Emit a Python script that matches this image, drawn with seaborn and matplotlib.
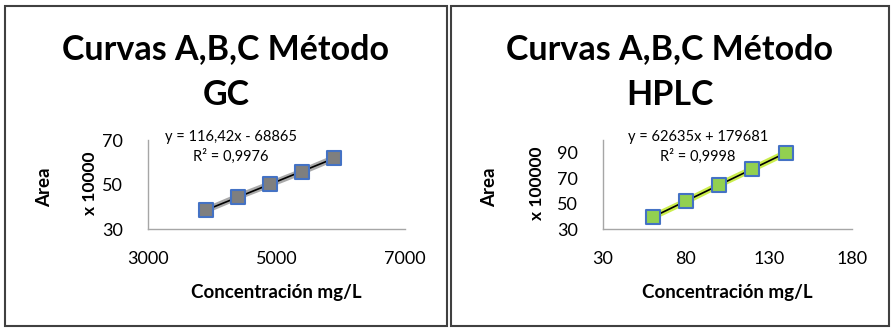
import numpy as np
import pandas as pd
import matplotlib
matplotlib.use("Agg")
import matplotlib.pyplot as plt
from matplotlib.patches import Rectangle
import seaborn as sns

# Data (areas already divided by the display units)
gc_conc = [3900, 4400, 4900, 5400, 5900]
gc_area = [38.4, 44.5, 50.1, 55.8, 61.9]
hplc_conc = [60, 80, 100, 120, 140]
hplc_area = [39.5, 51.8, 64.8, 77.2, 89.8]

gc_ticks_x = [3000, 5000, 7000]
gc_ticks_y = [30, 50, 70]
hplc_ticks_x = [30, 80, 130, 180]
hplc_ticks_y = [30, 50, 70, 90]

sns.set_theme(style="white")
plt.rcParams['font.family'] = ['Lato', 'DejaVu Sans']
plt.rcParams['text.color'] = 'black'
plt.rcParams['axes.labelcolor'] = 'black'

W, H = 894, 330
fig = plt.figure(figsize=(W / 100, H / 100), dpi=100)


def px(x0, y0, x1, y1):
    # pixel box (top-origin) -> figure fraction rect
    return [x0 / W, 1 - y1 / H, (x1 - x0) / W, (y1 - y0) / H]


def panel(box, axbox, x, y, xlim, ylim, xt, yt, fill, band, title2,
          units, eq, r2, area_x, units_x, eq_x):
    bx0, by0, bx1, by1 = box
    fig.patches.append(Rectangle((bx0 / W, 1 - by1 / H), (bx1 - bx0) / W,
                                 (by1 - by0) / H, transform=fig.transFigure,
                                 fill=False, edgecolor='#404040', lw=1.5))
    cx = (bx0 + bx1) / 2 / W
    fig.text(cx, 1 - 49 / H, 'Curvas A,B,C Método', ha='center', va='center',
             fontsize=24.5, fontweight='bold')
    fig.text(cx, 1 - 95 / H, title2, ha='center', va='center',
             fontsize=24.5, fontweight='bold')

    ax = fig.add_axes(px(*axbox))
    df = pd.DataFrame({'conc': x, 'area': y})
    sns.lineplot(data=df, x='conc', y='area', ax=ax, color=band, lw=4.5,
                 alpha=0.9, zorder=1)
    sns.regplot(data=df, x='conc', y='area', ax=ax, scatter=False, ci=None,
                color='black', line_kws={'lw': 1.2, 'zorder': 2})
    sns.scatterplot(data=df, x='conc', y='area', ax=ax, marker='s', s=100,
                    color=fill, edgecolor='#4472C4', linewidth=1.5, zorder=3)
    ax.set_xlim(xlim)
    ax.set_ylim(ylim)
    ax.set_xticks(xt)
    ax.set_yticks(yt)
    ax.tick_params(axis='both', labelsize=13, length=0, pad=16,
                   colors='black')
    ax.tick_params(axis='y', pad=18)
    for s in ['top', 'right']:
        ax.spines[s].set_visible(False)
    for s in ['left', 'bottom']:
        ax.spines[s].set_color('#a6a6a6')
        ax.spines[s].set_linewidth(1)
    ax.set_xlabel('Concentración mg/L', fontsize=13.5, fontweight='bold',
                  labelpad=12)
    ax.set_ylabel('')
    fig.text(area_x / W, 1 - 187 / H, 'Area', rotation=90, ha='center',
             va='center', fontsize=13.5, fontweight='bold')
    fig.text(units_x / W, 1 - 183 / H, units, rotation=90, ha='center',
             va='center', fontsize=12.5, fontweight='bold')
    fig.text(eq_x / W, 1 - 137 / H, eq, ha='center', va='center',
             fontsize=10.5)
    fig.text(eq_x / W, 1 - 156 / H, r2, ha='center', va='center',
             fontsize=10.5)
    return ax


panel((5, 6, 447, 326), (148, 140, 405, 229), gc_conc, gc_area,
      (3000, 7000), (30, 70), gc_ticks_x, gc_ticks_y, '#7f7f7f', '#a0a0a0',
      'GC', 'x 10000', 'y = 116,42x - 68865', 'R² = 0,9976', 45, 90, 231)
panel((451, 6, 889, 326), (603, 140, 852, 229), hplc_conc, hplc_area,
      (30, 180), (30, 100), hplc_ticks_x, hplc_ticks_y, '#92D050', '#c6ec3a',
      'HPLC', 'x 100000', 'y = 62635x + 179681', 'R² = 0,9998', 490, 537, 698)

fig.savefig('out.png', dpi=100)
